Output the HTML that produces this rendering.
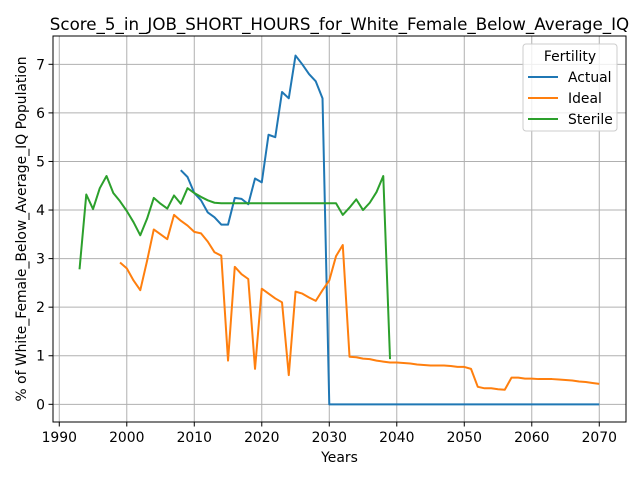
<!DOCTYPE html>
<html><head><meta charset="utf-8"><style>
body{margin:0;background:#fff;font-family:"DejaVu Sans","Liberation Sans",sans-serif;}
</style></head><body>
<svg id="chart" width="640" height="480" xmlns="http://www.w3.org/2000/svg" font-family="DejaVu Sans, Liberation Sans, sans-serif"></svg>
<script>
const actualYears=[2008,2009,2010,2011,2012,2013,2014,2015,2016,2017,2018,2019,2020,2021,2022,2023,2024,2025,2026,2027,2028,2029,2030,2040,2050,2060,2070];
const actualVals=[4.82,4.68,4.35,4.2,3.95,3.85,3.7,3.7,4.25,4.23,4.12,4.65,4.57,5.55,5.5,6.43,6.3,7.18,7.0,6.8,6.65,6.3,0,0,0,0,0];
const idealStart=1999;
const idealVals=[2.92,2.8,2.55,2.35,2.95,3.6,3.5,3.4,3.9,3.78,3.68,3.55,3.52,3.35,3.13,3.06,0.9,2.83,2.68,2.58,0.73,2.38,2.28,2.18,2.1,0.6,2.32,2.28,2.2,2.13,2.35,2.55,3.05,3.28,0.98,0.97,0.94,0.93,0.9,0.88,0.86,0.86,0.85,0.84,0.82,0.81,0.8,0.8,0.8,0.79,0.77,0.77,0.73,0.36,0.33,0.33,0.31,0.3,0.55,0.55,0.53,0.53,0.52,0.52,0.52,0.51,0.5,0.49,0.47,0.46,0.44,0.42];
const sterileStart=1993;
const sterileVals=[2.78,4.32,4.02,4.45,4.7,4.35,4.18,3.98,3.75,3.48,3.82,4.25,4.13,4.03,4.3,4.13,4.45,4.35,4.27,4.2,4.15,4.14,4.14,4.14,4.14,4.14,4.14,4.14,4.14,4.14,4.14,4.14,4.14,4.14,4.14,4.14,4.14,4.14,4.14,3.9,4.05,4.22,4.0,4.15,4.37,4.7,0.93];
const xTicks=[1990,2000,2010,2020,2030,2040,2050,2060,2070];
const yTicks=[0,1,2,3,4,5,6,7];

const svg=document.getElementById('chart');
const NS='http://www.w3.org/2000/svg';
const L=53,R=626,T=36,B=422;
const xMin=1989.07,xMax=2073.96,yMin=-0.364,yMax=7.583;
const xs=v=>L+(v-xMin)/(xMax-xMin)*(R-L);
const ys=v=>B-(v-yMin)/(yMax-yMin)*(B-T);
function mk(tag,attrs,parent){const e=document.createElementNS(NS,tag);for(const k in attrs)e.setAttribute(k,attrs[k]);(parent||svg).appendChild(e);return e;}

const grid=mk('g',{});


xTicks.forEach(t=>{const x=xs(t);
 mk('line',{x1:x,x2:x,y1:T,y2:B,stroke:'#b0b0b0','stroke-width':1},grid);
 mk('line',{x1:x,x2:x,y1:B,y2:B+4.5,stroke:'#000','stroke-width':1});
 const tx=mk('text',{x:x,y:B+20,'text-anchor':'middle','font-size':13.9});tx.textContent=t;
 
 
});
yTicks.forEach(t=>{const y=ys(t);
 mk('line',{x1:L,x2:R,y1:y,y2:y,stroke:'#b0b0b0','stroke-width':1},grid);
 mk('line',{x1:L-4.5,x2:L,y1:y,y2:y,stroke:'#000','stroke-width':1});
 const tx=mk('text',{x:L-8,y:y+5,'text-anchor':'end','font-size':13.9});tx.textContent=t;
 
 
});
function series(years,vals,color,name){
 const d=vals.map((v,i)=>(i?'L':'M')+xs(years[i]).toFixed(2)+' '+ys(v).toFixed(2)).join(' ');
 const p=mk('path',{d:d,fill:'none',stroke:color,'stroke-width':2,'stroke-linejoin':'round'});
 
 
}
series(actualYears,actualVals,'#1f77b4','actual-line');
series(idealVals.map((_,i)=>idealStart+i),idealVals,'#ff7f0e','ideal-line');
series(sterileVals.map((_,i)=>sterileStart+i),sterileVals,'#2ca02c','sterile-line');
const frame=mk('rect',{x:L,y:T,width:R-L,height:B-T,fill:'none',stroke:'#000','stroke-width':1});


const title=mk('text',{x:(L+R)/2,y:30,'text-anchor':'middle','font-size':16.7});title.textContent='Score_5_in_JOB_SHORT_HOURS_for_White_Female_Below_Average_IQ';


const xt=mk('text',{x:(L+R)/2,y:462,'text-anchor':'middle','font-size':13.9});xt.textContent='Years';


const yt=mk('text',{x:0,y:0,'text-anchor':'middle','font-size':13.9,transform:`translate(26,${(T+B)/2}) rotate(-90)`});yt.textContent='% of White_Female_Below_Average_IQ Population';


const lg=mk('g',{});


mk('rect',{x:523,y:44,width:94,height:87,rx:3,fill:'#fff','fill-opacity':0.8,stroke:'#ccc','stroke-width':1},lg);
const lt=mk('text',{x:570,y:61,'text-anchor':'middle','font-size':13.9},lg);lt.textContent='Fertility';
[['Actual','#1f77b4'],['Ideal','#ff7f0e'],['Sterile','#2ca02c']].forEach((e,i)=>{
 const y=77+i*21;
 const g=mk('g',{},lg);
 
 
 mk('line',{x1:528,x2:558,y1:y,y2:y,stroke:e[1],'stroke-width':2},g);
 const t=mk('text',{x:568,y:y+5,'font-size':13.9},g);t.textContent=e[0];
});
</script>
</body></html>
